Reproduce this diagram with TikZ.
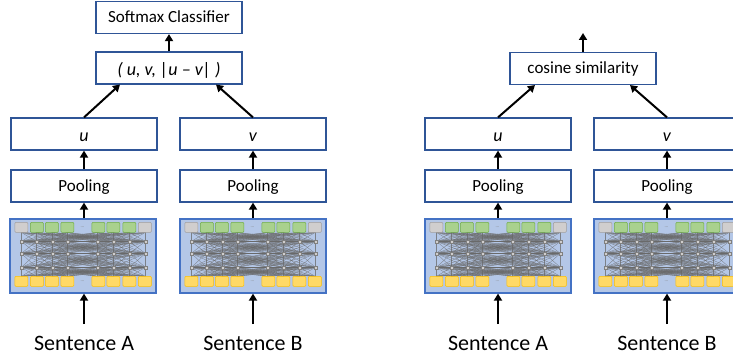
\documentclass[tikz,border=0pt]{standalone}
\usepackage{fontspec}
\setmainfont{Carlito}
\usetikzlibrary{arrows.meta}
\definecolor{boxblue}{RGB}{47,85,151}
\definecolor{bertfill}{RGB}{180,199,231}
\definecolor{bertline}{RGB}{68,114,196}
\definecolor{tokgreen}{RGB}{169,209,142}
\definecolor{tokgreenb}{RGB}{112,173,71}
\definecolor{tokorange}{RGB}{255,217,102}
\definecolor{tokorangeb}{RGB}{255,192,0}
\definecolor{tokgray}{RGB}{208,206,206}
\definecolor{tokgrayb}{RGB}{160,158,158}
\definecolor{netgray}{RGB}{105,105,105}
\tikzset{
 box/.style={draw=boxblue, line width=1.2pt, minimum width=146pt, minimum height=32pt, inner sep=0pt,
   font=\fontsize{17}{20}\selectfont, text height=12.5pt, text depth=1.5pt},
 ital/.style={font=\fontsize{18}{22}\selectfont\itshape, text height=15pt, text depth=0pt},
 arr/.style={line width=2pt, -{Triangle[length=7pt,width=8pt]}},
 sent/.style={font=\fontsize{22}{26}\selectfont, anchor=base, inner sep=0pt},
 bertbox/.style={draw=bertline, fill=bertfill, line width=1.2pt, minimum width=146pt, minimum height=74pt, inner sep=0pt},
 netline/.style={draw=netgray, line width=0.35pt, opacity=0.75},
 tokg/.style={fill=tokgreen, draw=tokgreenb, line width=0.6pt, rounded corners=1pt},
 toko/.style={fill=tokorange, draw=tokorangeb, line width=0.6pt, rounded corners=1pt},
 tokx/.style={fill=tokgray, draw=tokgrayb, line width=0.6pt, rounded corners=1pt},
 netdot/.style={fill=tokgray, draw=gray, line width=0.3pt},
}
\newcommand{\bertnet}[1]{%
 \begin{scope}[shift={(#1.north west)}]
  \foreach \a in {12,27,43,58,88,104,120,136}{
   \foreach \b in {12,27,43,58,88,104,120,136}{
     \draw[netline] (\a,14) -- (\b,23);
     \draw[netline] (\a,23) -- (\b,35);
     \draw[netline] (\a,35) -- (\b,49);
     \draw[netline] (\a,49) -- (\b,58);
   }}
  \foreach \r in {23,35,49}{
   \draw[netgray, line width=1.4pt] (12,\r) -- (136,\r);
   \foreach \a in {12,27,43,58,88,104,120,136}{
     \draw[netdot] (\a-1.5,\r-1.5) rectangle ++(3,3);
   }}
  \foreach \c in {12,135.5}{
   \draw[tokx] (\c-6.5,4) rectangle ++(13,10);
  }
  \foreach \c in {27.5,42.5,58,89,104,120}{
   \draw[tokg] (\c-6.5,4) rectangle ++(13,10);
  }
  \foreach \c in {12,27.5,42.5,58,89,104,120,135.5}{
   \draw[toko] (\c-6.5,58) rectangle ++(13,10);
  }
  \node[font=\fontsize{5}{5}\selectfont, text=gray, inner sep=0pt] at (73,9) {...};
  \node[font=\fontsize{5}{5}\selectfont, text=gray, inner sep=0pt] at (73,63) {...};
 \end{scope}}
\begin{document}
\begin{tikzpicture}[x=1pt,y=-1pt]
\useasboundingbox (0,0) rectangle (733,358);
\clip (0,0) rectangle (733,358);
% ---------- left diagram ----------
\node[box] (softL) at (169,17.5) {Softmax Classifier};
\node[box, ital] (catL) at (169,68) {( u, v, |u -- v| )};
\node[box, ital] (uL) at (84,134) {u};
\node[box, ital] (vL) at (253,134) {v};
\node[box] (pAL) at (84,186) {Pooling};
\node[box] (pBL) at (253,186) {Pooling};
\node[bertbox] (bAL) at (83,256) {};
\node[bertbox] (bBL) at (253,256) {};
\bertnet{bAL}
\bertnet{bBL}
\node[sent] (sAL) at (84,350) {Sentence A};
\node[sent] (sBL) at (253,350) {Sentence B};
\coordinate (inAL) at (84,324);
\coordinate (inBL) at (253,324);
\draw[arr] (catL) -- (softL);
\draw[arr] (uL.north) -- (120,84.5);
\draw[arr] (vL.north) -- (216,84.5);
\draw[arr] (pAL) -- (uL);
\draw[arr] (pBL) -- (vL);
\draw[arr] (bAL.north -| pAL) -- (pAL);
\draw[arr] (bBL.north -| pBL) -- (pBL);
\draw[arr] (inAL) -- (inAL |- bAL.south);
\draw[arr] (inBL) -- (inBL |- bBL.south);
% ---------- right diagram ----------
\node[box] (cosR) at (583,68.5) {cosine similarity};
\coordinate (outR) at (583,33);
\node[box, ital] (uR) at (498,134) {u};
\node[box, ital] (vR) at (667,134) {v};
\node[box] (pAR) at (498,186) {Pooling};
\node[box] (pBR) at (667,186) {Pooling};
\node[bertbox] (bAR) at (498,256) {};
\node[bertbox] (bBR) at (667,256) {};
\bertnet{bAR}
\bertnet{bBR}
\node[sent] (sAR) at (498,350) {Sentence A};
\node[sent] (sBR) at (667,350) {Sentence B};
\coordinate (inAR) at (498,324);
\coordinate (inBR) at (667,324);
\draw[arr] (cosR) -- (outR);
\draw[arr] (uR.north) -- (535,85);
\draw[arr] (vR.north) -- (630,85);
\draw[arr] (pAR) -- (uR);
\draw[arr] (pBR) -- (vR);
\draw[arr] (bAR.north -| pAR) -- (pAR);
\draw[arr] (bBR.north -| pBR) -- (pBR);
\draw[arr] (inAR) -- (inAR |- bAR.south);
\draw[arr] (inBR) -- (inBR |- bBR.south);
\end{tikzpicture}
\end{document}
